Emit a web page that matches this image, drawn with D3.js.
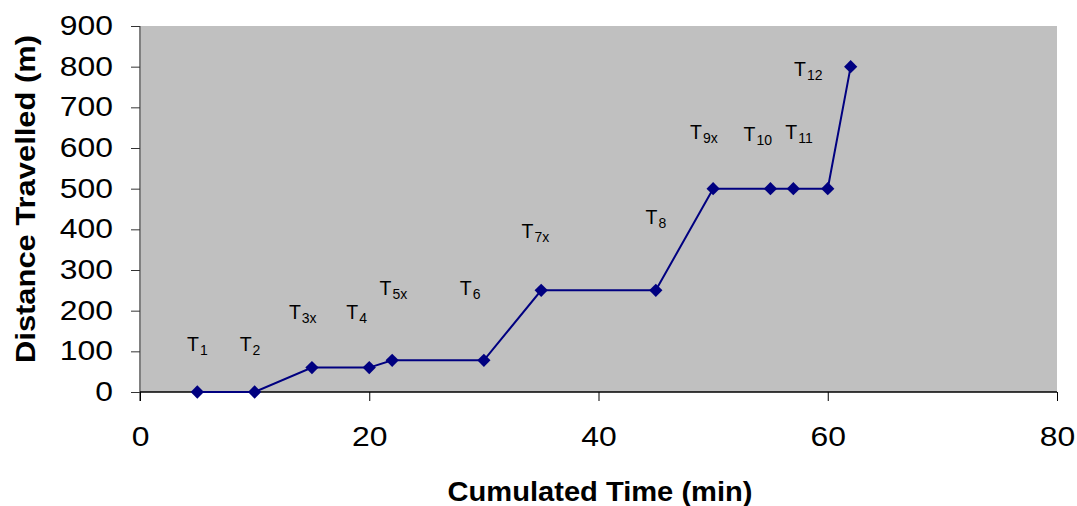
<!DOCTYPE html>
<html>
<head>
<meta charset="utf-8">
<script src="https://cdnjs.cloudflare.com/ajax/libs/d3/7.8.5/d3.min.js"></script>
<style>
  body { margin: 0; background: #fff; }
  text { font-family: "Liberation Sans", Arial, sans-serif; }
</style>
</head>
<body>
<div id="chart"></div>
<script>
// data
var times = [5, 10, 15, 20, 22, 30, 35, 45, 50, 55, 57, 60, 62];
var distances = [0, 0, 60, 60, 78, 78, 250, 250, 500, 500, 500, 500, 800];

// T labels: subscript, centre x (min), baseline y (m)
var labelSubs = ["1", "2", "3x", "4", "5x", "6", "7x", "8", "9x", "10", "11", "12"];
var labelX = [5.0, 9.6, 14.2, 18.9, 22.1, 28.8, 34.5, 45.0, 49.2, 53.9, 57.5, 58.3];
var labelY = [100, 100, 179, 179, 238, 238, 378, 414, 623, 618, 623, 777];

var xTicks = [0, 20, 40, 60, 80];
var yTicks = [0, 100, 200, 300, 400, 500, 600, 700, 800, 900];

var svgWidth = 1077, svgHeight = 506;
var margin = { top: 26, right: 20, bottom: 114, left: 140 };
var width = 1057 - margin.left;
var height = 392 - margin.top;

var svg = d3.select("#chart").append("svg")
  .attr("width", svgWidth)
  .attr("height", svgHeight);

var chartGroup = svg.append("g")
  .attr("transform", `translate(${margin.left}, ${margin.top})`);

var xScale = d3.scaleLinear().domain([0, 80]).range([0, width]);
var yScale = d3.scaleLinear().domain([0, 900]).range([height, 0]);

// plot area
chartGroup.append("rect")
  .attr("width", width)
  .attr("height", height)
  .attr("fill", "#c0c0c0");

// stretch tick labels a bit wider, like the original
function widen(sel, k) {
  sel.each(function() {
    var len = this.getComputedTextLength();
    d3.select(this)
      .attr("textLength", len * k)
      .attr("lengthAdjust", "spacingAndGlyphs");
  });
}

// y axis
var yAxis = chartGroup.append("g")
  .call(d3.axisLeft(yScale).tickValues(yTicks).tickSize(9).tickPadding(18));
yAxis.select(".domain").attr("stroke", "#808080").attr("stroke-width", 2)
  .attr("d", `M0,0V${height + 9}`);
yAxis.selectAll(".tick line").attr("stroke", "#333");
yAxis.selectAll(".tick text")
  .attr("font-size", 27)
  .attr("fill", "#000")
  .call(widen, 1.18);

// x axis
var xAxis = chartGroup.append("g")
  .attr("transform", `translate(0, ${height})`)
  .call(d3.axisBottom(xScale).tickValues(xTicks).tickSize(9).tickPadding(26));
xAxis.select(".domain").attr("stroke", "#000").attr("stroke-width", 1.5)
  .attr("d", `M0,0H${width}`);
xAxis.selectAll(".tick line").attr("stroke", "#000");
xAxis.selectAll(".tick text")
  .attr("font-size", 27)
  .attr("fill", "#000")
  .call(widen, 1.18);

// line
var line = d3.line()
  .x(function(d, i) { return xScale(times[i]); })
  .y(function(d) { return yScale(d); });

chartGroup.append("path")
  .datum(distances)
  .attr("fill", "none")
  .attr("stroke", "#000080")
  .attr("stroke-width", 2)
  .attr("d", line);

// diamond markers
var diamond = d3.symbol().type(d3.symbolSquare).size(88);
chartGroup.selectAll(".marker")
  .data(distances)
  .enter()
  .append("path")
  .attr("class", "marker")
  .attr("d", diamond)
  .attr("fill", "#000080")
  .attr("transform", function(d, i) {
    return `translate(${xScale(times[i])}, ${yScale(d)}) rotate(45)`;
  });

// T labels
var labels = chartGroup.selectAll(".tlabel")
  .data(labelSubs)
  .enter()
  .append("text")
  .attr("class", "tlabel")
  .attr("x", function(d, i) { return xScale(labelX[i]); })
  .attr("y", function(d, i) { return yScale(labelY[i]); })
  .attr("text-anchor", "middle")
  .attr("font-size", 19.5)
  .attr("fill", "#000");
labels.append("tspan").text("T");
labels.append("tspan")
  .attr("font-size", 14)
  .attr("dx", 1)
  .attr("dy", 4)
  .text(function(d) { return d; });

// axis titles
svg.append("text")
  .attr("x", 600)
  .attr("y", 501)
  .attr("text-anchor", "middle")
  .attr("font-size", 28)
  .attr("font-weight", "bold")
  .attr("textLength", 305)
  .attr("lengthAdjust", "spacingAndGlyphs")
  .text("Cumulated Time (min)");

svg.append("text")
  .attr("transform", "translate(35, 199) rotate(-90)")
  .attr("text-anchor", "middle")
  .attr("font-size", 28)
  .attr("font-weight", "bold")
  .attr("textLength", 328)
  .attr("lengthAdjust", "spacingAndGlyphs")
  .text("Distance Travelled (m)");
</script>
</body>
</html>
